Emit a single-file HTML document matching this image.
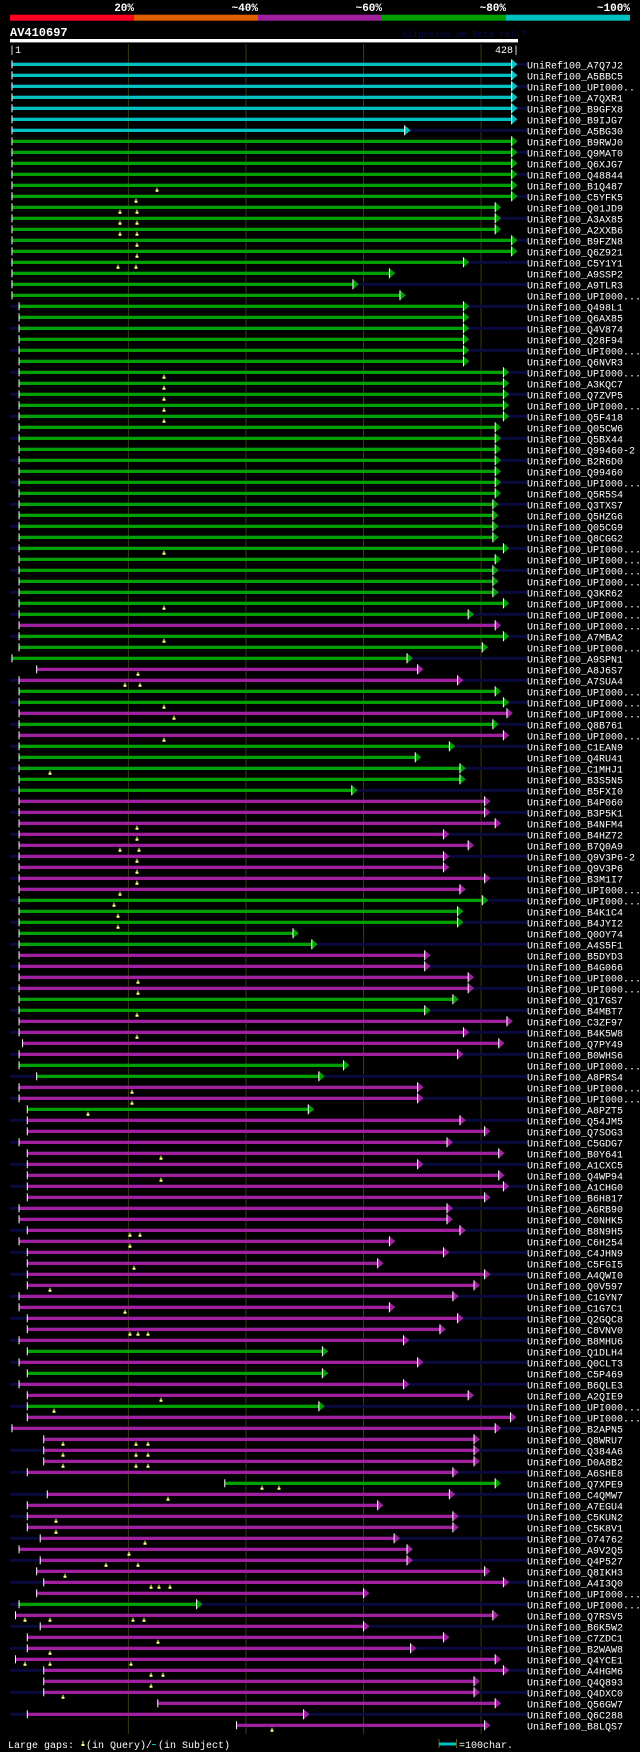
<!DOCTYPE html>
<html><head><meta charset="utf-8"><style>
html,body{margin:0;padding:0;background:#000;}
body{width:640px;height:1752px;overflow:hidden;position:relative;font-family:"Liberation Mono","DejaVu Sans Mono",monospace;}
svg{position:absolute;left:0;top:0;}
</style></head><body>
<svg id="chart" width="640" height="1752" viewBox="0 0 640 1752" xmlns="http://www.w3.org/2000/svg">
<g>
<rect x="10" y="14.7" width="124" height="6" fill="#ff0022"/>
<rect x="134" y="14.7" width="124" height="6" fill="#e06000"/>
<rect x="258" y="14.7" width="124" height="6" fill="#a020a0"/>
<rect x="382" y="14.7" width="124" height="6" fill="#00a000"/>
<rect x="506" y="14.7" width="124" height="6" fill="#00c0c0"/>
<g font-family="Liberation Mono, monospace" font-size="11" font-weight="bold" fill="#fff" text-anchor="end">
<text x="134" y="11">20%</text>
<text x="258" y="11">~40%</text>
<text x="382" y="11">~60%</text>
<text x="506" y="11">~80%</text>
<text x="630" y="11">~100%</text>
</g></g>
<text x="10" y="36" font-family="Liberation Mono, monospace" font-size="12" font-weight="bold" fill="#fff">AV410697</text>
<text x="402" y="37" font-family="Liberation Mono, monospace" font-size="9" fill="#0a0a50">AlignView.pm Beta rel.7</text>
<rect x="10" y="39" width="508" height="3.4" fill="#fff"/>
<text x="9" y="53" font-family="Liberation Mono, monospace" font-size="10" fill="#fff">|1</text>
<text x="519" y="53" text-anchor="end" font-family="Liberation Mono, monospace" font-size="10" fill="#fff">428|</text>
<g id="grid"></g>
<g id="rows"></g>
<g font-family="Liberation Mono, monospace" font-size="10" fill="#fff">
<text x="8" y="1748">Large gaps:</text>
<path d="M82.5 1741v3h-1v2h3v-2h-1v-3z" fill="#ffff80"/>
<text x="86" y="1748">(in Query)/</text>
<rect x="152" y="1744" width="4" height="1" fill="#00c0c0"/>
<text x="158" y="1748">(in Subject)</text>
<rect x="438.5" y="1739" width="1" height="9" fill="#606020"/>
<rect x="439" y="1742.5" width="17" height="3" fill="#00c0c0"/>
<rect x="456" y="1739" width="1" height="9" fill="#606020"/>
<text x="459" y="1748">=100char.</text>
</g>
</svg>
<script>
const labels = ["A7Q7J2","A5BBC5","UPI000..","A7QXR1","B9GFX8","B9IJG7","A5BG30","B9RWJ0","Q9MAT0","Q6XJG7","Q48844","B1Q487","C5YFK5","Q01JD9","A3AX85","A2XXB6","B9FZN8","Q6Z921","C5Y1Y1","A9SSP2","A9TLR3","UPI000...","Q498L1","Q6AX85","Q4V874","Q28F94","UPI000...","Q6NVR3","UPI000...","A3KQC7","Q7ZVP5","UPI000...","Q5F418","Q05CW6","Q5BX44","Q99460-2","B2R6D0","Q99460","UPI000...","Q5R5S4","Q3TXS7","Q5HZG6","Q05CG9","Q8CGG2","UPI000...","UPI000...","UPI000...","UPI000...","Q3KR62","UPI000...","UPI000...","UPI000...","A7MBA2","UPI000...","A9SPN1","A8J6S7","A7SUA4","UPI000...","UPI000...","UPI000...","Q8B761","UPI000...","C1EAN9","Q4RU41","C1MHJ1","B3S5N5","B5FXI0","B4P060","B3P5K1","B4NFM4","B4HZ72","B7Q0A9","Q9V3P6-2","Q9V3P6","B3M1I7","UPI000...","UPI000...","B4K1C4","B4JYI2","Q0OY74","A4S5F1","B5DYD3","B4G066","UPI000...","UPI000...","Q17GS7","B4MBT7","C3ZF97","B4K5W8","Q7PY49","B0WHS6","UPI000...","A8PRS4","UPI000...","UPI000...","A8PZT5","Q54JM5","Q7SOG3","C5GDG7","B0Y641","A1CXC5","Q4WP94","A1CHG0","B6H817","A6RB90","C0NHK5","B8N9H5","C6H254","C4JHN9","C5FGI5","A4QWI0","Q0V597","C1GYN7","C1G7C1","Q2GQC8","C8VNV0","B8MHU6","Q1DLH4","Q0CLT3","C5P469","B6QLE3","A2QIE9","UPI000...","UPI000...","B2APN5","Q8WRU7","Q384A6","D0A8B2","A6SHE8","Q7XPE9","C4QMW7","A7EGU4","C5KUN2","C5K8V1","O74762","A9V2Q5","Q4P527","Q8IKH3","A4I3Q0","UPI000...","UPI000...","Q7RSV5","B6K5W2","C7ZDC1","B2WAW8","Q4YCE1","A4HGM6","Q4Q893","Q4DXC0","Q56GW7","Q6C288","B8LQS7"];
const starts = [1,1,1,1,1,1,1,1,1,1,1,1,1,1,1,1,1,1,1,1,1,1,7,7,7,7,7,7,7,7,7,7,7,7,7,7,7,7,7,7,7,7,7,7,7,7,7,7,7,7,7,7,7,7,1,22,7,7,7,7,7,7,7,7,7,7,7,7,7,7,7,7,7,7,7,7,7,7,7,7,7,7,7,7,7,7,7,7,7,10,7,7,22,7,7,14,14,14,7,14,14,14,14,14,7,7,14,7,14,14,14,14,7,7,14,14,7,14,7,14,7,14,14,14,1,28,28,28,14,182,31,14,14,14,25,7,25,22,28,22,7,4,25,14,14,4,28,28,28,125,14,192];
const ends = [426,426,426,426,426,426,335,426,426,426,426,426,426,412,412,412,426,426,385,322,291,331,385,385,385,385,385,385,419,419,419,419,419,412,412,412,412,412,412,412,410,410,410,410,419,412,410,410,410,419,389,412,419,401,337,346,380,412,419,422,410,419,373,344,382,382,290,403,403,412,368,389,368,368,403,382,401,380,380,240,256,352,352,389,389,376,352,422,385,415,380,283,262,346,346,253,382,403,371,415,346,415,419,403,371,371,382,322,368,312,403,394,376,322,380,365,334,265,346,265,334,389,262,425,412,394,394,394,376,412,373,312,376,376,326,337,337,403,419,300,158,410,300,368,340,412,419,394,394,412,249,403];
const colorRunCodes = ["C","G","M","G","M","G","M","G","M","G","M","G","M","G","M","G","M","G","M","G","M","G","M","G","M","G","M","G","M"];
const colorRunLengths = [7,44,1,3,2,2,1,1,1,5,9,5,4,2,4,2,2,1,21,1,1,1,2,1,6,1,10,1,11];
const markerRows = [11,12,13,14,15,16,17,18,28,29,30,31,32,44,49,52,55,56,58,59,61,64,69,70,71,72,73,74,75,76,77,78,83,84,86,88,93,94,95,99,101,106,107,109,111,113,115,121,122,125,126,127,129,130,132,133,134,135,136,137,138,141,143,144,145,146,147,148,151];
const markerPos = ["157","136","120,137","120,137","120,137","137","137","118,136","164","164","164","164","164","164","164","164","138","125,140","164","174","164","50","137","137","120,139","137","137","137","120","114","118","118","138","138","137","137","132","132","88","161","161","130,140","130","134","50","125","130,138,148","161","54","63,136,148","63,136,148","63,136,148","262,279","168","56","56","145","129","106,138","65","151,159,170","25,50,133,144","158","50","25,50,131","151,163","151","63","272"];
const ticks = [100,200,300,400];

const NS = "http://www.w3.org/2000/svg";
const X0 = 12, X1 = 514, QLEN = 428;
function xs(p){ return X0 + (p-1)*(X1-X0)/(QLEN-1); }
function yRow(i){ return 64.3 + 11*i; }
const COL = {C:"#00c0c0", G:"#00a000", M:"#a020a0"};
const colorCodes = [];
colorRunCodes.forEach((c,k)=>{ for(let n=0;n<colorRunLengths[k];n++) colorCodes.push(c); });
function mk(tag, attrs, parent){ const e=document.createElementNS(NS,tag); for(const k in attrs) e.setAttribute(k,attrs[k]); parent.appendChild(e); return e; }

const grid = document.getElementById('grid');
ticks.forEach(t=>{
  const l = mk('rect',{x:xs(t)-0.5,y:44,width:1,height:1690,fill:'#3a3a12'},grid);
  
  
});

const rows = document.getElementById('rows');
labels.forEach((lab,i)=>{
  const cy = yRow(i);
  const g = mk('g',{},rows);
  
  
  if(i%2===0){
    const s = mk('rect',{x:10,y:cy-1.5,width:517,height:3,fill:'#0a0a3c'},g);
    
    
  }
  const c = COL[colorCodes[i] || 'M'];
  const xa = xs(starts[i]), xb = xs(ends[i]);
  const b = mk('rect',{x:xa,y:cy-1.6,width:Math.max(0,xb-xa),height:3.3,fill:c},g);
  
  
  const tk = mk('rect',{x:xa-0.5,y:cy-4,width:1,height:8,fill:'#fff'},g);
  
  
  const tri = mk('polygon',{points:`${xb},${cy-5} ${xb+6},${cy} ${xb},${cy+5}`,fill:c},g);
  
  
  const te = mk('rect',{x:xb-0.5,y:cy-5,width:1,height:10,fill:'#fff'},g);
  
  
  const mi = markerRows.indexOf(i);
  if(mi>=0){
    markerPos[mi].split(',').forEach(v=>{
      const x = +v;
      const m = mk('path',{d:`M${x-0.5} ${cy+2.5}h1v2h1v2h-3v-2h1z`,fill:'#ffff80'},g);
      
      
    });
  }
  const t = mk('text',{x:527,y:cy+4,'font-family':'Liberation Mono, monospace','font-size':'10',fill:'#fff'},g);
  t.textContent = 'UniRef100_'+lab;
  
  
});
</script>
</body></html>
